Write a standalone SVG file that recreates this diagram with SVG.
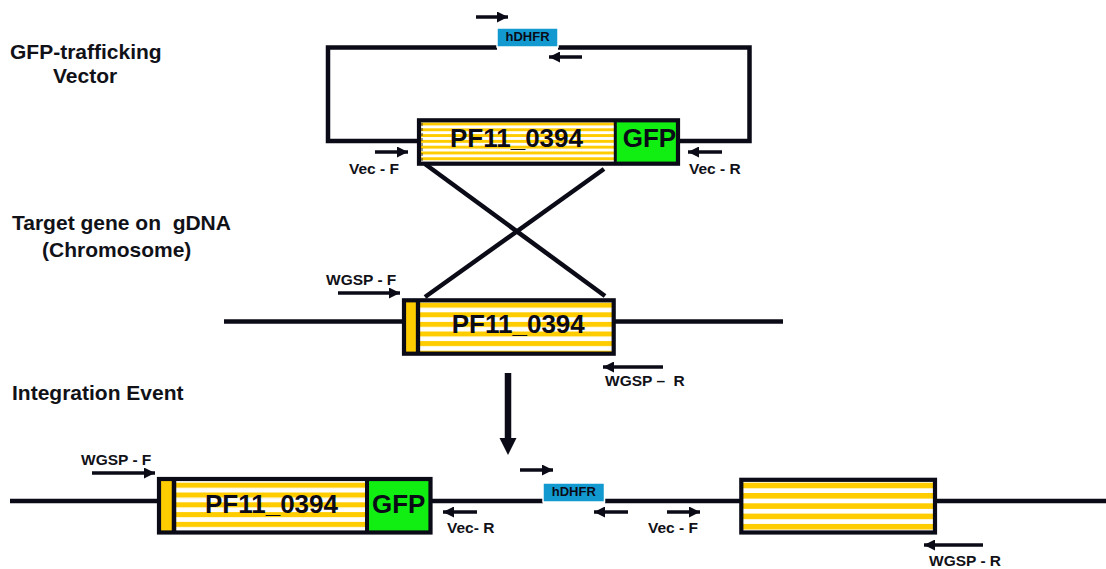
<svg xmlns="http://www.w3.org/2000/svg" width="1106" height="569" viewBox="0 0 1106 569">
<style>
.ln{stroke:#0b0b18;stroke-width:4.5;fill:none}
.box{stroke:#0b0b18;stroke-width:4.2;fill:none}
.pr{stroke:#0b0b18;stroke-width:3.5;fill:none;marker-end:url(#ah)}
.lbl{font-family:"Liberation Sans",Arial,sans-serif;font-weight:bold;fill:#111118;font-size:21px;white-space:pre}
.sm{font-family:"Liberation Sans",Arial,sans-serif;font-weight:bold;fill:#111118;font-size:15.5px;white-space:pre}
.gn{font-family:"Liberation Sans",Arial,sans-serif;font-weight:bold;fill:#0b0b18;font-size:26px;text-anchor:middle}
.hd{font-family:"Liberation Sans",Arial,sans-serif;font-weight:bold;fill:#0b0b18;font-size:13px;text-anchor:middle}
.hbox{fill:#129ad0;stroke:#ffffff;stroke-width:1.5}
.gfp{fill:#11ee11}
.yl{fill:#ffcc00}
</style>
<defs>
<marker id="ah" markerUnits="userSpaceOnUse" markerWidth="11" markerHeight="11" refX="11" refY="5.5" orient="auto">
<path d="M0,0 L11,5.5 L0,11 z" fill="#0b0b18"/>
</marker>
<pattern id="stTop" patternUnits="userSpaceOnUse" x="0" y="122.5" width="10" height="5.8"><rect width="10" height="3.1" fill="#ffcc00"/><rect y="3.1" width="10" height="2.7" fill="#ffffff"/></pattern>
<pattern id="stMid" patternUnits="userSpaceOnUse" x="0" y="302.7" width="10" height="9.6"><rect width="10" height="5.2" fill="#ffcc00"/><rect y="5.2" width="10" height="4.4" fill="#ffffff"/></pattern>
<pattern id="stBL" patternUnits="userSpaceOnUse" x="0" y="482.7" width="10" height="9.8"><rect width="10" height="5.3" fill="#ffcc00"/><rect y="5.3" width="10" height="4.5" fill="#ffffff"/></pattern>
<pattern id="stBR" patternUnits="userSpaceOnUse" x="0" y="482.7" width="10" height="10.3"><rect width="10" height="5.6" fill="#ffcc00"/><rect y="5.6" width="10" height="4.7" fill="#ffffff"/></pattern>
</defs>
<rect width="1106" height="569" fill="#ffffff"/>

<g id="labels">
<text class="lbl" x="10" y="59">GFP-trafficking</text>
<text class="lbl" x="53" y="83">Vector</text>
<text class="lbl" x="12" y="230">Target gene on  gDNA</text>
<text class="lbl" x="42" y="257">(Chromosome)</text>
<text class="lbl" x="12" y="400">Integration Event</text>
</g>

<g id="connectors">
<!-- vector loop -->
<polyline class="ln" points="419,141 328,141 328,47.5 497,47.5"/>
<polyline class="ln" points="558,47.5 749.5,47.5 749.5,141 678,141"/>
<!-- crossover lines -->
<line class="ln" x1="425" y1="164" x2="605" y2="296"/>
<line class="ln" x1="604" y1="169" x2="425" y2="297"/>
<!-- chromosome line -->
<line class="ln" x1="224" y1="321.5" x2="783" y2="321.5"/>
<!-- integrated locus line -->
<line class="ln" x1="10" y1="501" x2="543" y2="501"/>
<line class="ln" x1="605" y1="501" x2="1106" y2="501"/>
<!-- vertical arrow -->
<line x1="508" y1="373" x2="508" y2="441" stroke="#0b0b18" stroke-width="6.5"/>
<polygon points="499.5,438 516.5,438 508,455" fill="#0b0b18"/>
</g>

<g id="primers">
<line class="pr" x1="476" y1="17" x2="508" y2="17"/>
<line class="pr" x1="582" y1="57" x2="549" y2="57"/>
<line class="pr" x1="375" y1="152" x2="408" y2="152"/>
<line class="pr" x1="722" y1="152" x2="688" y2="152"/>
<line class="pr" x1="338" y1="293" x2="400" y2="293"/>
<line class="pr" x1="663" y1="367" x2="603" y2="367"/>
<line class="pr" x1="92" y1="473" x2="155" y2="473"/>
<line class="pr" x1="520" y1="470" x2="553" y2="470"/>
<line class="pr" x1="628" y1="512" x2="594" y2="512"/>
<line class="pr" x1="667" y1="512" x2="700" y2="512"/>
<line class="pr" x1="477" y1="512" x2="443" y2="512"/>
<line class="pr" x1="983" y1="545" x2="924" y2="545"/>
<text class="sm" x="349" y="174">Vec - F</text>
<text class="sm" x="689" y="174">Vec - R</text>
<text class="sm" x="326" y="285">WGSP - F</text>
<text class="sm" x="605" y="386">WGSP –  R</text>
<text class="sm" x="81" y="465">WGSP - F</text>
<text class="sm" x="447" y="533">Vec- R</text>
<text class="sm" x="648" y="533">Vec - F</text>
<text class="sm" x="929" y="566">WGSP - R</text>
</g>

<g id="vector-hdhfr">
<rect class="hbox" x="497" y="28" width="61" height="19"/>
<text class="hd" x="527.5" y="41">hDHFR</text>
</g>

<g id="vector-gene">
<rect x="419" y="120.3" width="196.3" height="43.4" fill="url(#stTop)"/>
<rect class="gfp" x="615.3" y="120.3" width="62.7" height="43.4"/>
<rect class="box" x="419" y="120.3" width="259" height="43.4"/>
<line x1="615.3" y1="120.3" x2="615.3" y2="163.7" stroke="#0b0b18" stroke-width="3"/>
<line x1="422" y1="123" x2="422" y2="161" stroke="#333" stroke-width="1" stroke-dasharray="3,2"/>
<text class="gn" x="516.5" y="147">PF11_0394</text>
<text class="gn" x="649.5" y="147">GFP</text>
</g>

<g id="chromosome-gene">
<rect class="yl" x="404" y="300.3" width="14" height="53.4"/>
<rect x="418" y="300.3" width="195.7" height="53.4" fill="url(#stMid)"/>
<rect class="box" x="404" y="300.3" width="209.7" height="53.4"/>
<line x1="418" y1="300.3" x2="418" y2="353.7" stroke="#0b0b18" stroke-width="4.3"/>
<text class="gn" x="518.3" y="333.3">PF11_0394</text>
</g>

<g id="integrated-gene">
<rect class="yl" x="159" y="479" width="15" height="53.5"/>
<rect x="174" y="479" width="193" height="53.5" fill="url(#stBL)"/>
<rect class="gfp" x="367" y="479" width="63.5" height="53.5"/>
<rect class="box" x="159" y="479" width="271.5" height="53.5"/>
<line x1="174" y1="479" x2="174" y2="532.5" stroke="#0b0b18" stroke-width="4.5"/>
<line x1="367" y1="479" x2="367" y2="532.5" stroke="#0b0b18" stroke-width="4"/>
<text class="gn" x="271.5" y="512.7">PF11_0394</text>
<text class="gn" x="398.7" y="513">GFP</text>
</g>

<g id="integrated-hdhfr">
<rect class="hbox" x="543" y="483" width="61.5" height="19"/>
<text class="hd" x="573.8" y="496">hDHFR</text>
</g>

<g id="integrated-gene-copy">
<rect x="741.3" y="479.8" width="193.7" height="52.7" fill="url(#stBR)"/>
<rect class="box" x="741.3" y="479.8" width="193.7" height="52.7"/>
</g>
</svg>
